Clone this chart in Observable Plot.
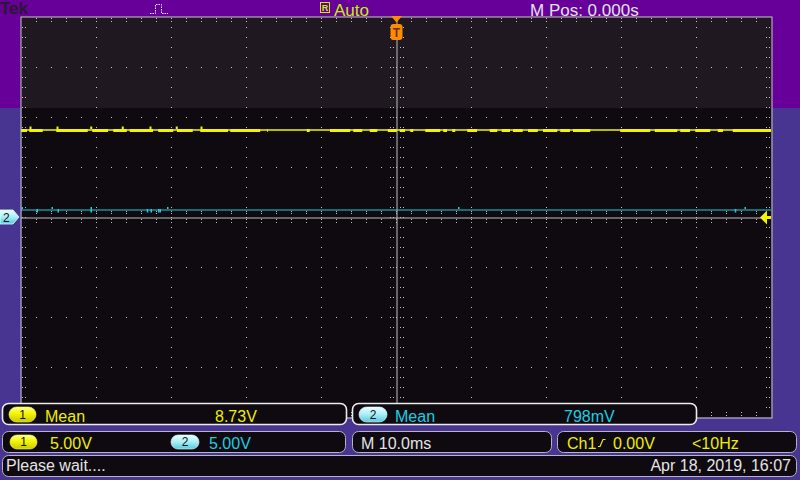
<!DOCTYPE html>
<html><head><meta charset="utf-8">
<script src="https://cdn.jsdelivr.net/npm/d3@7"></script>
<script src="https://cdn.jsdelivr.net/npm/@observablehq/plot@0.6"></script>
<style>
html,body{margin:0;padding:0;background:#483592;}
#scope{position:relative;width:800px;height:480px;overflow:hidden;
  background:linear-gradient(to bottom,#660099 0,#660099 108px,#483592 108px);
  font-family:"Liberation Sans",Arial,sans-serif;}
#scope svg{position:absolute;left:0;top:0;}
</style>
</head><body>
<div id="scope"></div>
<script>
// ---- scope settings (10 ms/div, 5 V/div, 10 x 8 divisions) ----
const timeDomain = [-50, 50];      // ms
const voltDomain = [-20, 20];      // V
const shadeLevel = 10.9;           // V, top of the lighter upper zone

// ---- channel 1 (yellow) ----
const ch1Level = 8.8;
const ch1BurstLow = 8.5;
const ch1SpikeTop = 9.05;
const ch1BurstStart = [-50,-48.9,-45.3,-40.5,-37.7,-35.5,-31.7,-29.2,-26.1,-22.1,-17.2,-11.9,-8.8,-5.7,-3.5,-1.1,0.5,1.9,3.9,6.3,7.5,9.5,12.5,14.1,15.6,17.6,19.6,21.9,23.6,29.9,34.5,37.9,39.9,42.9,44.9];
const ch1BurstEnd   = [-49.2,-47.1,-41.1,-38.4,-35.9,-32.4,-29.7,-27.1,-22.4,-18.1,-17.1,-11.5,-6.1,-4.5,-2.5,0.1,1.2,2.3,5.9,6.8,7.9,10.8,13.5,15.2,16.9,18.9,21.5,23.2,25.9,33.9,37.5,39.2,41.9,43.6,50];
const ch1Spikes = [-48.8,-45.2,-40.7,-36.5,-32.8,-29.3,-26.0];

// ---- channel 2 (cyan) ----
const ch2Level = 0.8;
const ch2UpTop = 1.0;
const ch2DownLow = 0.45;
const ch2UpGlitches = [-49.9,-45.9,-40.7,-30.5,8.3,46.5];
const ch2DownGlitches = [-47.9,-45.1,-40.7,-33.2,-32.7,-31.7,-31.5,45.2];

// ---- readouts ----
const headerLabels = {brand:"Tek", mode:"Auto", mpos:"M Pos: 0.000s"};
const meas1 = {name:"Mean", value:"8.73V"};
const meas2 = {name:"Mean", value:"798mV"};
const scale1 = "5.00V", scale2 = "5.00V";
const timebase = "M 10.0ms";
const trigSource = "Ch1", trigLevel = "0.00V", trigFreq = "<10Hz";
const statusText = "Please wait....";
const dateText = "Apr 18, 2019, 16:07";

const YEL = "#f4f400", CYN = "#1ccfe0", GRID = "#c4c4c4";

const bursts = ch1BurstStart.map((s,i)=>({x1:s, x2:ch1BurstEnd[i]}));

// grid dot positions (structural, derived from the division layout)
const PX_T = 100/750, PX_V = 40/400;   // one screen pixel in ms / V
const dots = [];
const majorT = d3.range(-40, 41, 10).filter(t=>t!==0);
const majorV = d3.range(-15, 16, 5).filter(v=>v!==0);
for (const v of majorV) for (let t=-48; t<=48; t+=2) dots.push({t, v});
for (const t of majorT) for (let v=-19; v<=19; v+=1) dots.push({t, v});
for (let v=-19; v<=19; v+=1) for (const o of [-6,-3,4,7]) dots.push({t:o*PX_T, v});
for (let t=-48; t<=48; t+=2) for (const o of [-5,-2,4,6]) dots.push({t, v:o*PX_V});
for (let t=-48; t<=48; t+=2) for (const o of [1,4]) { dots.push({t, v:20-o*PX_V}); dots.push({t, v:-20+(o+1)*PX_V}); }
for (let v=-19; v<=19; v+=1) for (const o of [1,4]) { dots.push({t:-50+o*PX_T, v}); dots.push({t:50-(o+1)*PX_T, v}); }

const chart = Plot.plot({
  width: 800, height: 480,
  marginLeft: 21, marginRight: 29, marginTop: 17, marginBottom: 63,
  x: {domain: timeDomain, axis: null},
  y: {domain: voltDomain, axis: null},
  style: {background: "transparent"},
  marks: [
    Plot.frame({fill: "#0e0a10", stroke: null}),
    Plot.rect([shadeLevel], {x1: timeDomain[0], x2: timeDomain[1], y1: d=>d, y2: voltDomain[1], fill: "#1f1820"}),
    Plot.rect(dots, {x1:"t", x2: d=>d.t+PX_T, y1:"v", y2: d=>d.v-PX_V, fill:GRID}),
    Plot.ruleX([0], {stroke: "#bdbdbd", dx: 0.5}),
    Plot.ruleY([0], {stroke: "#bdbdbd", dy: 0.5}),
    Plot.ruleY([ch2Level], {stroke: CYN, dy: 0.5, strokeWidth: 1.2}),
    Plot.ruleX(ch2UpGlitches, {x: d=>d, y1: ch2Level, y2: ch2UpTop, stroke: CYN, strokeWidth: 1.5}),
    Plot.ruleX(ch2DownGlitches, {x: d=>d, y1: ch2Level, y2: ch2DownLow, stroke: CYN, strokeWidth: 1.5}),
    Plot.rect(bursts, {x1:"x1", x2:"x2", y1: ch1BurstLow, y2: ch1Level, fill: YEL}),
    Plot.ruleY([ch1Level], {stroke: YEL, dy: 0.5, strokeWidth: 1.3}),
    Plot.ruleX(ch1Spikes, {x: d=>d, y1: ch1Level, y2: ch1SpikeTop, stroke: YEL, strokeWidth: 2}),
    Plot.frame({stroke: "#c8c8c8", inset: -0.5})
  ]
});
const root = document.getElementById("scope");
root.appendChild(chart);

const sx = chart.scale("x"), sy = chart.scale("y");
const x0 = sx.apply(0), y0 = sy.apply(0);

// ---- overlay: header, markers and readout boxes ----
const svg = d3.create("svg").attr("width", 800).attr("height", 480)
  .attr("font-family", '"Liberation Sans", Arial, sans-serif');
const defs = svg.append("defs");
const gy = defs.append("linearGradient").attr("id","gy").attr("x1",0).attr("x2",0).attr("y1",0).attr("y2",1);
gy.append("stop").attr("offset",0).attr("stop-color","#ffff90");
gy.append("stop").attr("offset",0.45).attr("stop-color","#f4f400");
gy.append("stop").attr("offset",1).attr("stop-color","#c8c800");
const gc = defs.append("linearGradient").attr("id","gc").attr("x1",0).attr("x2",0).attr("y1",0).attr("y2",1);
gc.append("stop").attr("offset",0).attr("stop-color","#e8ffff");
gc.append("stop").attr("offset",0.5).attr("stop-color","#a8eef6");
gc.append("stop").attr("offset",1).attr("stop-color","#58c8dc");

const text = (s, x, y, o={}) => svg.append("text").attr("x",x).attr("y",y)
  .attr("font-size", o.size||16).attr("fill", o.fill||"#e4e4e4")
  .attr("font-weight", o.weight||"normal").attr("text-anchor", o.anchor||"start").text(s);

// header
text(headerLabels.brand, 0, 14, {size:17, weight:"bold", fill:"#2a1830"});
svg.append("polyline").attr("points","150,13.5 155.5,13.5 155.5,4.5 161.5,4.5 161.5,13.5 168,13.5")
  .attr("fill","none").attr("stroke","#f0f0f0").attr("stroke-width",1).attr("stroke-dasharray","1.5 1");
svg.append("rect").attr("x",320.5).attr("y",2.5).attr("width",9).attr("height",10)
  .attr("fill","none").attr("stroke","#c8f000");
text("R", 325, 11, {size:9, fill:"#c8f000", anchor:"middle", weight:"bold"});
text(headerLabels.mode, 334, 15.5, {size:17, fill:"#c4f000"});
text(headerLabels.mpos, 530, 15.5, {size:17, fill:"#e2e2e2"});

// trigger position marker
svg.append("path").attr("d",`M${x0-5},16 L${x0+6},16 L${x0+0.5},22.5 Z`).attr("fill","#ff8c00");
svg.append("rect").attr("x",x0-5.5).attr("y",24).attr("width",12).attr("height",16).attr("rx",3).attr("fill","#ff8c00");
text("T", x0+0.5, 37, {size:12, weight:"bold", fill:"#6a3000", anchor:"middle"});

// channel 2 ground marker
svg.append("path").attr("d",`M0,${y0-7} L13,${y0-7} L19,${y0} L13,${y0+7} L0,${y0+7} Z`)
  .attr("fill","url(#gc)").attr("stroke","#e0ffff").attr("stroke-width",0.8);
text("2", 3, y0+5, {size:12, fill:"#111"});

// trigger level marker
svg.append("path").attr("d",`M760,${y0+0.5} L767,${y0-6.5} L767,${y0+7.5} Z`).attr("fill",YEL);
svg.append("rect").attr("x",766).attr("y",y0-1).attr("width",5).attr("height",3).attr("fill",YEL);

// readout boxes
const box = (x,y,w,h,stroke,sw) => svg.append("rect").attr("x",x).attr("y",y).attr("width",w).attr("height",h)
  .attr("rx",6).attr("fill","#0e0a10").attr("stroke",stroke).attr("stroke-width",sw);
const pill = (x,y,w,h,grad,label) => {
  svg.append("rect").attr("x",x).attr("y",y).attr("width",w).attr("height",h).attr("rx",h/2)
    .attr("fill",`url(#${grad})`).attr("stroke", grad==="gy" ? "#fbfb70" : "#e8ffff").attr("stroke-width",0.6);
  text(label, x+w/2, y+h-3.5, {size:12, fill:"#111", anchor:"middle"});
};
box(2.5, 403.5, 344, 21, "#ececec", 1.6);
box(352.5, 403.5, 344, 21, "#ececec", 1.6);
box(2.5, 431.5, 343, 21, "#b4b4c4", 1);
box(352.5, 431.5, 199, 21, "#b4b4c4", 1);
box(557.5, 431.5, 239, 21, "#b4b4c4", 1);
box(2.5, 455.5, 794, 21, "#b4b4c4", 1);

const TY = "#eeee00";
pill(9, 407, 27, 15, "gy", "1");
text(meas1.name, 45, 421.5, {fill:TY});
text(meas1.value, 215, 421.5, {fill:TY});
pill(359, 407, 28, 15, "gc", "2");
text(meas2.name, 395, 421.5, {fill:CYN});
text(meas2.value, 564, 421.5, {fill:CYN});

pill(10, 435, 27, 14, "gy", "1");
text(scale1, 50, 448.5, {fill:TY});
pill(171, 435, 28, 14, "gc", "2");
text(scale2, 209, 448.5, {fill:CYN});
text(timebase, 361, 448.5, {fill:"#e4e4e4"});
text(trigSource, 567, 448.5, {fill:TY});
svg.append("path").attr("d","M598,446.5 L600,446.5 L603,439.5 L605.5,439.5").attr("fill","none")
  .attr("stroke",TY).attr("stroke-width",1.2);
text(trigLevel, 613, 448.5, {fill:TY});
text(trigFreq, 692, 448.5, {fill:TY});

text(statusText, 6, 471, {fill:"#e4e4e4"});
text(dateText, 791, 470.5, {fill:"#e4e4e4", anchor:"end"});

root.appendChild(svg.node());
</script>
</body></html>
